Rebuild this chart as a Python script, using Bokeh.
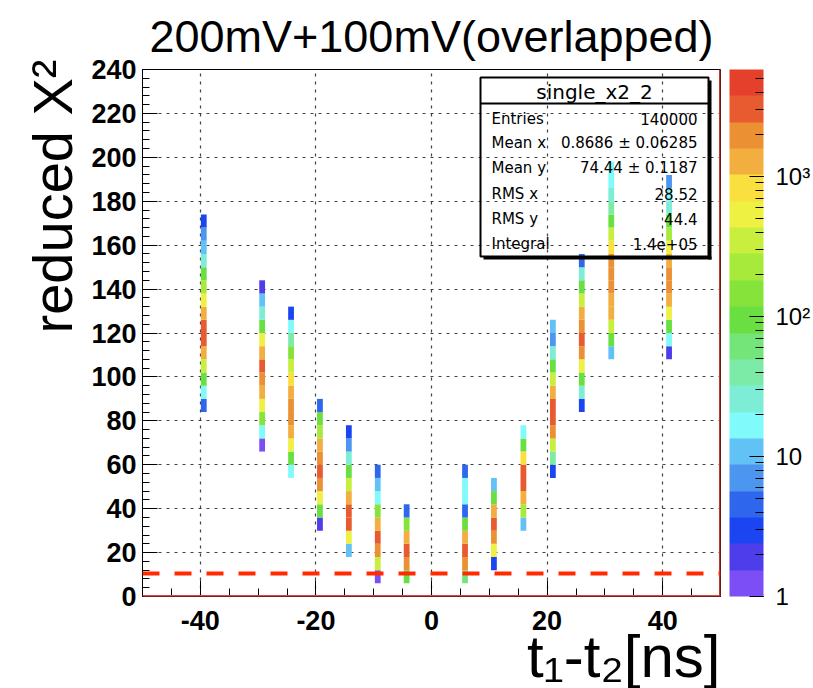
import math
from bokeh.plotting import figure
from bokeh.models import (ColumnDataSource, LogColorMapper, ColorBar, LogTicker, Label, Span,
                          Range1d, SingleIntervalTicker, FixedTicker, Title)
from bokeh.embed import file_html
from bokeh.resources import INLINE

# ---------------- data ----------------
x_centers = [-39.4, -29.3, -24.3, -19.3, -14.3, -9.3, -4.3, 5.8, 10.8, 15.9, 21.0, 26.0, 31.1, 41.1]
x_bin_width = 1.0
y_bin_width = 6
col_y_low = [84, 66, 54, 30, 18, 6, 6, 6, 12, 30, 54, 84, 108, 108]
col_counts = [
    [5, 17, 95, 350, 1280, 3040, 3040, 1280, 540, 225, 95, 26, 11, 7, 3],
    [1, 17, 146, 540, 1280, 1970, 3040, 1280, 540, 95, 26, 11, 2],
    [17, 95, 540, 1280, 1970, 1970, 1280, 830, 350, 146, 40, 17, 3],
    [2, 95, 540, 1970, 3040, 1970, 1280, 225, 95, 5],
    [11, 540, 3040, 3040, 1280, 350, 95, 26, 7, 3],
    [1, 350, 1970, 3040, 1280, 146, 17, 11, 5],
    [95, 1970, 3040, 1280, 146, 5],
    [60, 1970, 3040, 1280, 95, 5, 17, 17, 5],
    [3, 540, 1970, 3040, 1280, 95, 11],
    [11, 225, 1280, 3040, 3040, 830, 95, 17],
    [3, 40, 350, 1970, 3040, 3040, 1280, 350, 95, 26, 7, 11],
    [3, 26, 95, 540, 1970, 3040, 1970, 1280, 350, 95, 26, 5],
    [11, 95, 350, 1280, 1280, 1970, 1970, 1970, 830, 350, 95, 40, 26, 17, 17],
    [2, 17, 95, 540, 1280, 1970, 1970, 1280, 540, 225, 95, 26, 17, 7],
]
z_min, z_max = 1, 5820
chi2_cut = 10.5
x_ticks_major = [-40, -20, 0, 20, 40]
x_tick_labels = {-40: "-40", -20: "-20", 0: "0", 20: "20", 40: "40"}
stat_names = ["Entries", "Mean x", "Mean y", "RMS x", "RMS y", "Integral"]
stat_values = ["140000", "0.8686 \u00b1 0.06285", "74.44 \u00b1 0.1187", "28.52", "44.4", "1.4e+05"]
stat_title = "single_x2_2"
cbar_labels = {1: "1", 10: "10", 100: "10\u00b2", 1000: "10\u00b3"}
title_text = "200mV+100mV(overlapped)"
x_title = "t\u2081-t\u2082[ns]"
y_title = "reduced X\u00b2"

palette = ["#7B4FF5", "#4D3DEB", "#1B45F0", "#2E66EE", "#4C96F0", "#62C2F6", "#80FAFA",
           "#7EEDD5", "#7DEBA8", "#74E679", "#6ADF42", "#86E33A", "#A8EA3C", "#C8EE3E",
           "#EEF042", "#FAE03E", "#F2AE3E", "#EC9034", "#E85A30", "#E5402B"]

# ---------------- layout helpers ----------------
W, H = 813, 688
FX0, FX1, FY0, FY1 = 142, 720, 69, 596

def xd(px):
    return -50 + (px - FX0) * 100.0 / (FX1 - FX0)

def yd(py):
    return (FY1 - py) * 240.0 / (FY1 - FY0)

# ---------------- bins ----------------
L, R, B, T, C = [], [], [], [], []
for xc, y0, counts in zip(x_centers, col_y_low, col_counts):
    for i, c in enumerate(counts):
        L.append(xc - x_bin_width / 2)
        R.append(xc + x_bin_width / 2)
        B.append(y0 + i * y_bin_width)
        T.append(y0 + (i + 1) * y_bin_width)
        C.append(c)
src = ColumnDataSource(dict(left=L, right=R, bottom=B, top=T, count=C))

mapper = LogColorMapper(palette=palette, low=z_min, high=z_max)

p = figure(width=W, height=H, x_range=Range1d(-50, 50), y_range=Range1d(0, 240),
           output_backend="svg", toolbar_location=None,
           min_border_left=FX0, min_border_right=W - FX1, min_border_top=67,
           min_border_bottom=H - FY1, title=title_text)
p.title.align = "center"
p.title.text_font = "Liberation Sans"
p.title.text_font_style = "normal"
p.title.text_font_size = "45px"
p.title.text_color = "black"
p.title.standoff = 16
p.background_fill_color = "white"
p.border_fill_color = "white"
p.outline_line_color = "black"
p.outline_line_width = 1

p.quad(left="left", right="right", bottom="bottom", top="top", source=src,
       fill_color={"field": "count", "transform": mapper}, line_color=None)

# axes
p.xaxis.ticker = SingleIntervalTicker(interval=20, num_minor_ticks=4)
p.yaxis.ticker = SingleIntervalTicker(interval=20, num_minor_ticks=5)
p.xaxis.major_label_overrides = x_tick_labels
p.xgrid.ticker = FixedTicker(ticks=x_ticks_major)
for ax in (p.xaxis[0], p.yaxis[0]):
    ax.axis_line_color = "black"
    ax.major_tick_line_color = "black"
    ax.minor_tick_line_color = "black"
    ax.major_tick_out = 0
    ax.minor_tick_out = 0
    ax.major_label_text_font = "Liberation Sans"
    ax.major_label_text_font_style = "bold"
    ax.major_label_text_font_size = "27px"
    ax.major_label_text_color = "black"
p.xaxis.major_tick_in = 16
p.xaxis.minor_tick_in = 8
p.yaxis.major_tick_in = 15
p.yaxis.minor_tick_in = 7
p.xaxis.major_label_standoff = 14
p.yaxis.major_label_standoff = 6

# axis titles as side titles (aligned to the frame ends)
p.add_layout(Title(text=y_title, align="right", text_font="Liberation Sans",
                   text_font_style="normal", text_font_size="56px", text_color="black",
                   standoff=9, offset=-10), "left")
p.add_layout(Title(text=x_title, align="right", text_font="Liberation Sans",
                   text_font_style="normal", text_font_size="60px", text_color="black",
                   standoff=-24, offset=0), "below")

for g in (p.xgrid[0], p.ygrid[0]):
    g.grid_line_color = "#222222"
    g.grid_line_dash = "3 5"
    g.grid_line_width = 1.2
    g.grid_line_alpha = 0.85

# red frame edges and cut line
p.add_layout(Span(location=0, dimension="width", line_color="#D84848", line_width=3))
p.add_layout(Span(location=50, dimension="height", line_color="#C0392B", line_width=3))
p.add_layout(Span(location=chi2_cut, dimension="width", line_color="#FF2A00",
                  line_width=4, line_dash="17 15"))

# colour bar
cb = ColorBar(color_mapper=mapper, ticker=LogTicker(num_minor_ticks=10), width=34,
              margin=0, padding=0, location=(9, 0),
              major_label_overrides=cbar_labels,
              major_label_text_font="Liberation Sans", major_label_text_font_size="24px",
              major_label_text_color="black",
              major_tick_in=14, major_tick_out=0, minor_tick_in=8, minor_tick_out=0,
              major_tick_line_color="black", minor_tick_line_color="black",
              label_standoff=12, bar_line_color=None, border_line_color=None,
              background_fill_color=None)
p.add_layout(cb, "right")

# stats box
bx0, bx1, by0, by1, byh = 480, 708, 77, 256, 103
p.quad(left=[xd(bx0)], right=[xd(bx1)], top=[yd(by0)], bottom=[yd(by1)],
       fill_color=None, line_color="black", line_width=2)
p.segment(x0=[xd(bx1 + 1.5), xd(bx0 + 3)], y0=[yd(by0 + 3), yd(by1 + 1.5)],
          x1=[xd(bx1 + 1.5), xd(bx1 + 3)], y1=[yd(by1 + 3), yd(by1 + 1.5)],
          line_color="black", line_width=3)
p.segment(x0=[xd(bx0)], y0=[yd(byh)], x1=[xd(bx1)], y1=[yd(byh)], line_color="black", line_width=2)
p.add_layout(Label(x=xd((bx0 + bx1) / 2), y=yd(91), text=stat_title, text_align="center",
                   text_baseline="middle", text_font="DejaVu Sans", text_font_size="20px",
                   text_color="black"))
row_y = [118, 142, 167, 193, 218, 243]
for name, val, ry in zip(stat_names, stat_values, row_y):
    p.add_layout(Label(x=xd(bx0 + 11), y=yd(ry), text=name, text_align="left",
                       text_baseline="middle", text_font="DejaVu Sans", text_font_size="15px",
                       text_color="black"))
    p.add_layout(Label(x=xd(bx1 - 11), y=yd(ry), text=val, text_align="right",
                       text_baseline="middle", text_font="DejaVu Sans", text_font_size="15px",
                       text_color="black"))

open("out.html", "w").write(file_html(p, INLINE))
